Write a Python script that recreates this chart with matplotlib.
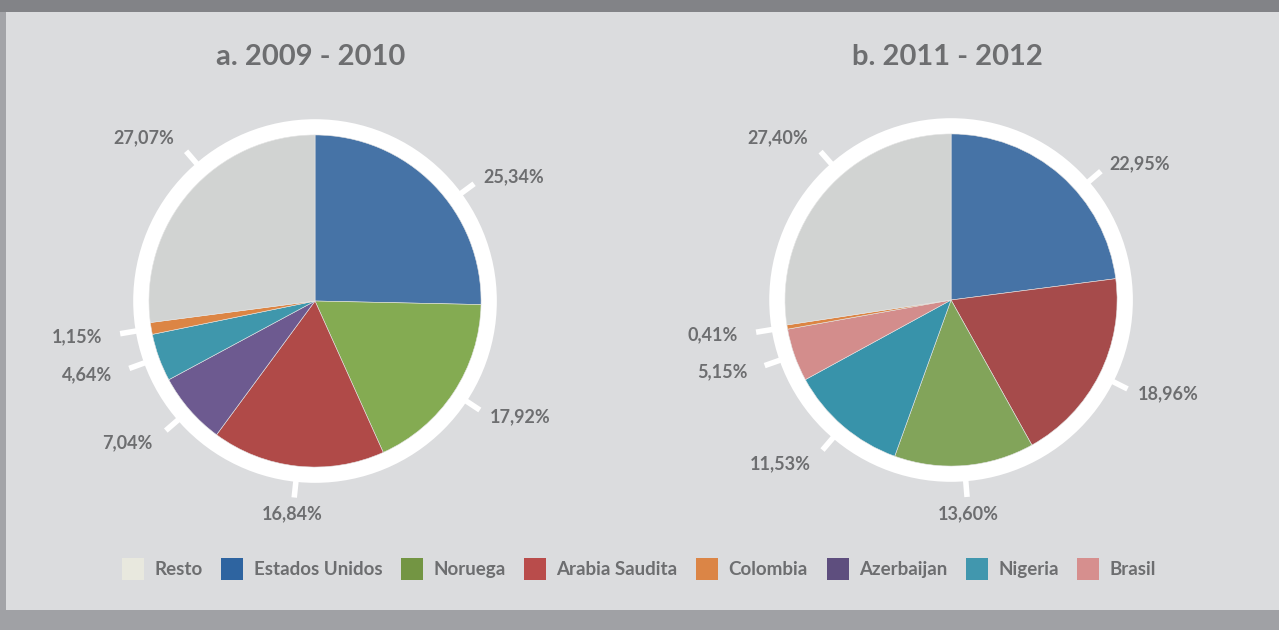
#!/usr/bin/env python3
"""
Two pies with white ring, outward ticks and shared legend
"""

import numpy as np
import matplotlib.pyplot as plt
from matplotlib.patches import Circle, Patch, Rectangle

# Data
titles = ['a. 2009 - 2010', 'b. 2011 - 2012']

labels_a = ['Estados Unidos', 'Noruega', 'Arabia Saudita', 'Azerbaijan', 'Nigeria', 'Colombia', 'Resto']
values_a = [25.34, 17.92, 16.84, 7.04, 4.64, 1.15, 27.07]

labels_b = ['Estados Unidos', 'Arabia Saudita', 'Noruega', 'Nigeria', 'Brasil', 'Colombia', 'Resto']
values_b = [22.95, 18.96, 13.60, 11.53, 5.15, 0.41, 27.40]

legend_labels = ['Resto', 'Estados Unidos', 'Noruega', 'Arabia Saudita',
                 'Colombia', 'Azerbaijan', 'Nigeria', 'Brasil']

# Colours
pie_colors_a = {'Estados Unidos': '#4673a6', 'Noruega': '#84ab52', 'Arabia Saudita': '#b04a48',
                'Azerbaijan': '#6d5a90', 'Nigeria': '#3f97ac', 'Colombia': '#dc8544',
                'Resto': '#d1d3d2'}
pie_colors_b = {'Estados Unidos': '#4673a6', 'Arabia Saudita': '#a64b4b', 'Noruega': '#82a45a',
                'Nigeria': '#3893aa', 'Brasil': '#d38d8c', 'Colombia': '#dc8544',
                'Resto': '#d1d3d2'}
legend_colors = {'Resto': '#e8e8de', 'Estados Unidos': '#2e64a0', 'Noruega': '#739543',
                 'Arabia Saudita': '#b94c4b', 'Colombia': '#db8546', 'Azerbaijan': '#5e4e7e',
                 'Nigeria': '#4197ae', 'Brasil': '#d68f8e'}

TEXT = '#6d6e70'
BG = '#dbdcde'

plt.rcParams['font.family'] = ['Lato', 'DejaVu Sans']
plt.rcParams['font.weight'] = 'bold'


def fmt(v):
    return f'{v:.2f}'.replace('.', ',') + '%'


def draw_pie(ax, labels, values, colors):
    # white ring behind the pie
    ax.add_patch(Circle((0, 0), 1.095, facecolor='white', edgecolor='none', zorder=0))
    wedges, _ = ax.pie(values, colors=[colors[l] for l in labels], startangle=90,
                       counterclock=False, radius=1.0,
                       wedgeprops=dict(linewidth=0.4, edgecolor='#e4e4e4'))
    for w in wedges:
        w.set_zorder(1)

    ax.set_xlim(-1.4, 1.4)
    ax.set_ylim(-1.4, 1.4)
    ax.set_aspect('equal')
    ax.axis('off')

    total = sum(values)
    cum = 0.0
    for v in values:
        mid = 90 - (cum + v / 2) / total * 360
        cum += v
        a = np.deg2rad(mid)
        # labels near the top sit a little clockwise of the wedge middle
        if np.sin(a) > 0.6:
            a -= np.deg2rad(8)
        c, s = np.cos(a), np.sin(a)
        ax.plot([1.08 * c, 1.19 * c], [1.08 * s, 1.19 * s], color='white',
                lw=4, solid_capstyle='butt', zorder=2)
        if c > 0.35:
            ha, r = 'left', 1.26
        elif c < -0.35:
            ha, r = 'right', 1.30
        else:
            ha, r = 'center', 1.29
        ax.text(r * c, r * s, fmt(v), ha=ha, va='center', fontsize=13,
                color=TEXT, fontweight='bold')


fig = plt.figure(figsize=(12.79, 6.30), dpi=100, facecolor=BG)

# frame strips
fig.patches.append(Rectangle((0, 1 - 12 / 630), 1, 12 / 630, transform=fig.transFigure,
                             facecolor='#828387', edgecolor='none', zorder=0))
fig.patches.append(Rectangle((0, 0), 6 / 1279, 1 - 12 / 630, transform=fig.transFigure,
                             facecolor='#a3a4a8', edgecolor='none', zorder=0))
fig.patches.append(Rectangle((0, 0), 1, 20 / 630, transform=fig.transFigure,
                             facecolor='#a0a1a5', edgecolor='none', zorder=0))

ax_a = fig.add_axes([0.0645, 0.1532, 0.3636, 0.738])
ax_b = fig.add_axes([0.5618, 0.1548, 0.3636, 0.738])
draw_pie(ax_a, labels_a, values_a, pie_colors_a)
draw_pie(ax_b, labels_b, values_b, pie_colors_b)

fig.text(311 / 1279, 1 - 57 / 630, titles[0], ha='center', va='center',
         fontsize=21, color=TEXT, fontweight='bold')
fig.text(947 / 1279, 1 - 57 / 630, titles[1], ha='center', va='center',
         fontsize=21, color=TEXT, fontweight='bold')

handles = [Patch(facecolor=legend_colors[l], edgecolor='none', label=l) for l in legend_labels]
leg = fig.legend(handles=handles, loc='center', bbox_to_anchor=(639 / 1279, 1 - 569 / 630),
                 ncol=8, frameon=False, fontsize=13.5, handlelength=1.17, handleheight=1.45,
                 handletextpad=0.55, columnspacing=1.0)
for t in leg.get_texts():
    t.set_color(TEXT)
    t.set_fontweight('bold')

fig.savefig('out.png', dpi=100, facecolor=BG)
